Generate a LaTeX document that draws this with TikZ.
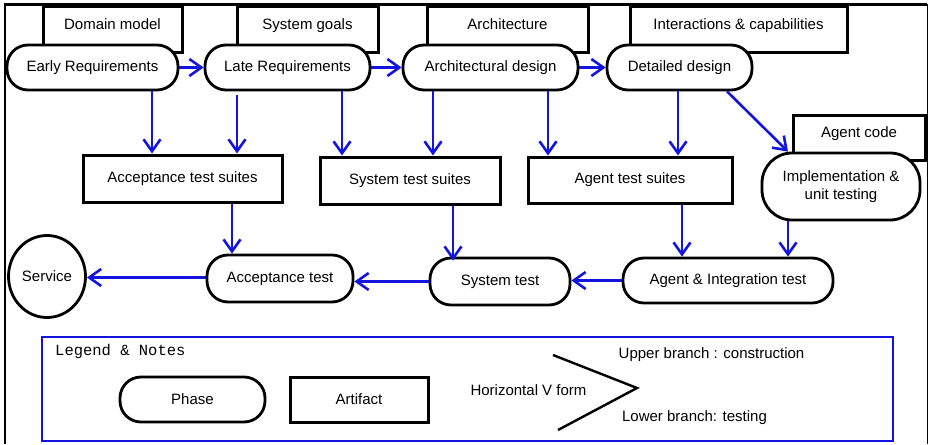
\documentclass[tikz,border=0pt]{standalone}
\usepackage{fontspec}
\setmainfont{Liberation Sans}
\newfontfamily\legendfont{Liberation Mono}
\usetikzlibrary{arrows.meta,shapes.geometric}

\definecolor{flowblue}{RGB}{20,20,225}
\newcommand{\lblsize}{\fontsize{15}{18}\selectfont}

\tikzset{
  phase/.style={draw, line width=2.8pt, fill=white, rounded corners=21pt, minimum height=45pt, align=center, font=\lblsize},
  artifact/.style={draw, line width=3pt, fill=white, minimum height=46pt, align=center, font=\lblsize},
  topart/.style={artifact, text height=10pt, text depth=10pt},
  flow/.style={draw=flowblue, line width=2.6pt, -{Straight Barb[length=12pt,width=17pt,line width=2.6pt]}},
}

\begin{document}
\begin{tikzpicture}[x=1pt, y=-1pt]
    \useasboundingbox (0,0) rectangle (928,444);
    % frame
    \draw[line width=2.8pt] (5,444) -- (5,4.5) -- (927,4.5);
    \draw[line width=1pt] (927,4.5) -- (927,444);

    % artifacts of the upper branch
    \node[topart, minimum width=139pt] (domain) at (112.5,30) {Domain model};
    \node[topart, minimum width=141pt] (goals) at (307.5,30) {System goals};
    \node[topart, minimum width=161pt] (archi) at (507.5,30) {Architecture};
    \node[topart, minimum width=217pt] (interact) at (738.5,30) {Interactions \& capabilities};
    \node[topart, minimum width=132pt, minimum height=45pt] (code) at (859,137.5) {Agent code};

    % phases of the upper branch
    \node[phase, minimum width=171pt] (early) at (92.5,67.5) {Early Requirements};
    \node[phase, minimum width=165pt] (late) at (287.5,67.5) {Late Requirements};
    \node[phase, minimum width=175pt] (archdes) at (490.5,67.5) {Architectural design};
    \node[phase, minimum width=145pt] (detail) at (679.5,67.5) {Detailed design};
    \node[phase, minimum width=158pt, minimum height=67pt, rounded corners=30pt] (impl) at (841,186.5) {Implementation \&\\unit testing};

    % test suites
    \node[artifact, minimum width=199pt, minimum height=47pt] (accsuite) at (182.5,178.5) {Acceptance test suites};
    \node[artifact, minimum width=180pt, minimum height=47pt] (syssuite) at (410,180.5) {System test suites};
    \node[artifact, minimum width=204pt, minimum height=46pt] (agsuite) at (630,180) {Agent test suites};

    % lower branch
    \node[draw, line width=2.8pt, ellipse, minimum width=77pt, minimum height=82pt, inner sep=0pt, font=\lblsize] (service) at (47,276.5) {Service};
    \node[phase, minimum width=146pt, minimum height=47pt] (acctest) at (280,278.5) {Acceptance test};
    \node[phase, minimum width=140pt, minimum height=47pt] (systest) at (500,281.5) {System test};
    \node[phase, minimum width=210pt] (aitest) at (728,280.5) {Agent \& Integration test};

    % construction flow
    \draw[flow] (early) -- (late);
    \draw[flow] (late) -- (archdes);
    \draw[flow] (archdes) -- (detail);
    \draw[flow] ([xshift=59.5pt]early.south) -- ([xshift=-30.5pt]accsuite.north);
    \draw[flow] ([xshift=-50.5pt,yshift=-4pt]late.south) -- ([xshift=54.5pt]accsuite.north);
    \draw[flow] ([xshift=54.5pt]late.south) -- ([xshift=-68pt]syssuite.north);
    \draw[flow] ([xshift=-57.5pt]archdes.south) -- ([xshift=23pt]syssuite.north);
    \draw[flow] ([xshift=57.5pt]archdes.south) -- ([xshift=-82pt]agsuite.north);
    \draw[flow] ([xshift=-1.5pt]detail.south) -- ([xshift=48pt]agsuite.north);
    \draw[flow] ([xshift=47.5pt]detail.south) -- ([xshift=-53pt]impl.north);

    % testing flow
    \draw[flow] ([xshift=49.5pt]accsuite.south) -- ([xshift=-48pt]acctest.north);
    \draw[flow] ([xshift=43pt]syssuite.south) -- ([xshift=-47pt,yshift=-4pt]systest.north);
    \draw[flow] ([xshift=52pt]agsuite.south) -- ([xshift=-46pt]aitest.north);
    \draw[flow] ([xshift=-53pt]impl.south) -- ([xshift=60pt]aitest.north);
    \draw[flow] (aitest.west) -- (aitest.west -| systest.east);
    \draw[flow] (systest.west) -- (systest.west -| acctest.east);
    \draw[flow] ([yshift=1pt]acctest.west) -- ([yshift=1pt]acctest.west -| service.east);

    % legend
    \draw[flowblue, line width=2.4pt] (42,337) rectangle (893,441);
    \node[anchor=west, inner sep=0pt, font=\legendfont\fontsize{15.5}{18}\selectfont] (legtitle) at (55,351) {Legend \& Notes};
    \node[phase, minimum width=145pt] (legphase) at (192.5,399.5) {Phase};
    \node[artifact, minimum width=138pt, minimum height=45pt] (legart) at (359,399.5) {Artifact};
    \node[font=\lblsize] (vform) at (528.5,390) {Horizontal V form};
    \coordinate (vtop) at (553,355);
    \coordinate (vtip) at (637,388);
    \coordinate (vbot) at (558,430);
    \draw[line width=2.4pt] (vtop) -- (vtip) -- (vbot);
    \node[font=\lblsize] (upper) at (711.5,355) {Upper branch : construction};
    \node[font=\lblsize] (lower) at (694.5,418) {Lower branch: testing};
\end{tikzpicture}
\end{document}
